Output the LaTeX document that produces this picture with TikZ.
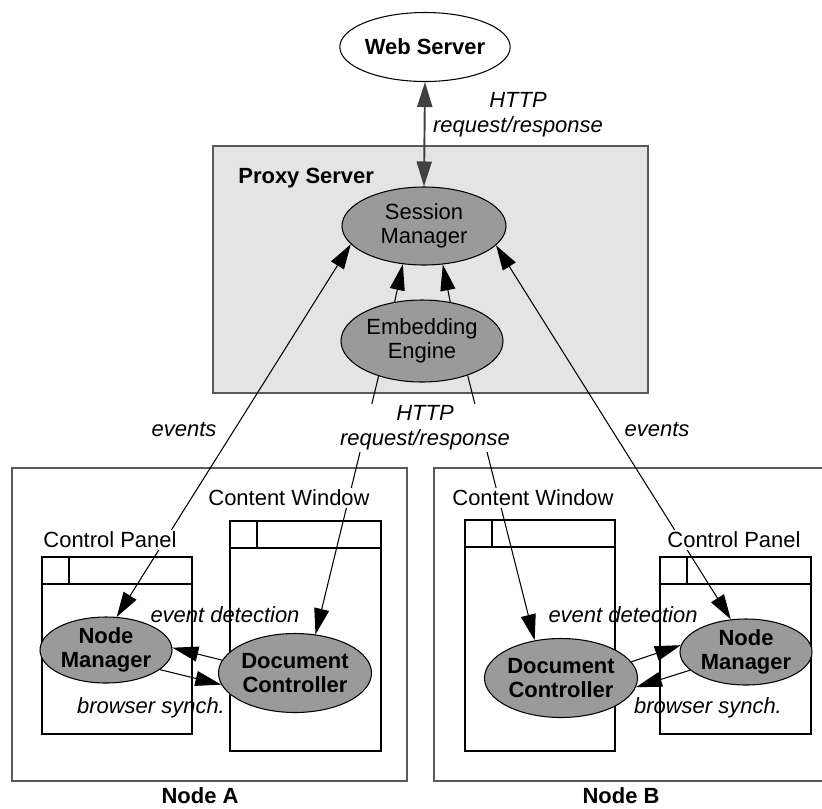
\documentclass[tikz,border=0pt]{standalone}
\usepackage{fontspec}
\setmainfont{Liberation Sans}
\usetikzlibrary{arrows.meta, shapes.geometric}
\definecolor{ellgrey}{HTML}{9A9A9A}
\definecolor{proxyfill}{HTML}{E4E4E4}
\definecolor{boxline}{HTML}{5A5A5A}
\definecolor{linkgrey}{HTML}{404040}
\tikzset{
  every picture/.style={font=\fontsize{12.5}{14}\selectfont, line width=0.6pt},
  blob/.style={ellipse, draw, fill=ellgrey, inner sep=0pt, align=center},
  bblob/.style={blob, font=\fontsize{12.5}{14}\selectfont\bfseries},
  arrow/.style={-{Triangle[length=5.2mm, width=3mm]}},
  twoway/.style={{Triangle[length=5mm, width=3mm]}-{Triangle[length=5mm, width=3mm]}},
  tag/.style={fill=white, inner sep=1pt},
  note/.style={font=\fontsize{12.5}{14}\selectfont\itshape, align=center},
  title/.style={font=\fontsize{12.5}{14}\selectfont\bfseries},
  hostbox/.style={draw=boxline, line width=1.2pt},
}
% browser window with title bar and small corner box
\newcommand{\appwindow}[4]{\draw (#1,#2) rectangle (#3,#4); \draw (#1,#2+27) -- (#3,#2+27) (#1+27,#2) -- (#1+27,#2+27);}

\begin{document}
\begin{tikzpicture}[x=0.2mm, y=-0.2mm]
  \useasboundingbox (0,0) rectangle (822,809);
  % proxy and the two client hosts
  \draw[draw=boxline, line width=0.9pt, fill=proxyfill] (213,146) rectangle (648,393);
  \draw[hostbox] (12,468) rectangle (407,781);
  \draw[hostbox] (434,468) rectangle (830,781);
  \appwindow{42}{557}{192}{734}
  \appwindow{230}{521}{381}{751}
  \appwindow{465}{520}{615}{751}
  \appwindow{660}{557}{811}{734}

  % components
  \node[ellipse, draw, fill=white, minimum width=32.8mm, minimum height=13.8mm, inner sep=0pt, title] (ws) at (425,47) {Web Server};
  \node[blob, minimum width=32.8mm, minimum height=15.6mm] (sm) at (424,226) {Session\\Manager};
  \node[blob, minimum width=32.4mm, minimum height=16.4mm] (ee) at (422,341) {Embedding\\Engine};
  \node[bblob, minimum width=26.4mm, minimum height=13.2mm] (nma) at (106,650) {Node\\Manager};
  \node[bblob, minimum width=30.6mm, minimum height=15.8mm] (dca) at (295,673) {Document\\Controller};
  \node[bblob, minimum width=30.6mm, minimum height=15.8mm] (dcb) at (561,678) {Document\\Controller};
  \node[bblob, minimum width=26.4mm, minimum height=13.2mm] (nmb) at (746,652) {Node\\Manager};

  % connectors
  \draw[twoway, draw=linkgrey, line width=1.1pt] (ws.south) -- (sm.north);
  \draw[twoway] (sm.194) -- (nma.72);
  \draw[twoway] (sm.345) -- (nmb.115);
  \draw[arrow] (ee.125) -- (sm.241);
  \draw[arrow] (ee.54) -- (sm.296);
  \draw[arrow] (ee.219) -- (dca.62);
  \draw[arrow] (ee.323) -- (dcb.125);
  \draw[arrow] (dca.170) -- (nma.2);
  \draw[arrow] (nma.340) -- (dca.189);
  \draw[arrow] (dcb.13) -- (nmb.174);
  \draw[arrow] (nmb.198) -- (dcb.353);

  % labels
  \node[title, anchor=west] (proxy) at (232,178) {Proxy Server};
  \node[note] (httptop) at (518,115) {HTTP\\request/response};
  \node[note, tag] (httpmid) at (425,428) {HTTP\\request/response};
  \node[note] (eva) at (184,429) {events};
  \node[note] (evb) at (657,429) {events};
  \node[tag] (cpa) at (110,540) {Control Panel};
  \node[tag] (cwa) at (289,498) {Content Window};
  \node[tag] (cwb) at (533,498) {Content Window};
  \node[tag] (cpb) at (734,540) {Control Panel};
  \node[note] (eda) at (225,615) {event detection};
  \node[note] (edb) at (623,615) {event detection};
  \node[note] (bsa) at (151,708) {browser synch.};
  \node[note] (bsb) at (708,708) {browser synch.};
  \node[title] (nodea) at (200,796) {Node A};
  \node[title] (nodeb) at (621,796) {Node B};
\end{tikzpicture}
\end{document}
